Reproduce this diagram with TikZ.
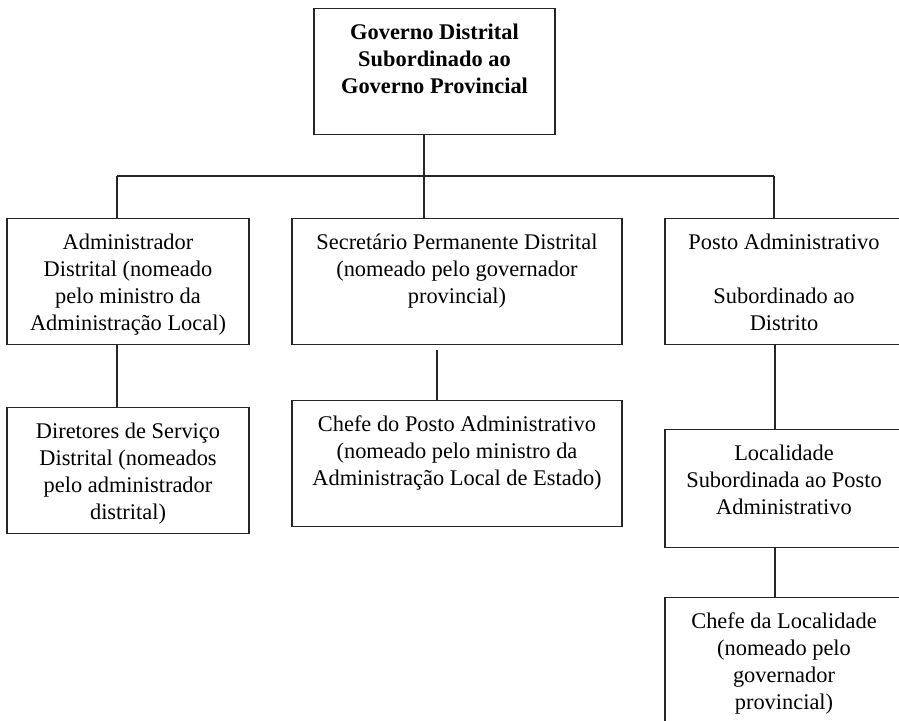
\documentclass[tikz,border=0pt]{standalone}
\usepackage{fontspec}
\setmainfont{Liberation Serif}
\usepackage{tikz}
\usetikzlibrary{positioning}
\newcommand{\linhas}[1]{\begin{tabular}[t]{@{}c@{}}#1\end{tabular}}
\tikzstyle{cargo} = [rectangle, draw=black!85, line width=0.6pt, anchor=north, inner xsep=2pt, inner ysep=0pt, text height=15.5pt, text depth=47.5pt, font=\fontsize{11.2}{13.5}\selectfont]
\tikzstyle{cargoforte} = [cargo, font=\fontsize{11.2}{13.5}\selectfont\bfseries]
\tikzstyle{linha} = [draw=black!85, line width=0.6pt]

\begin{document}
\begin{tikzpicture}[x=0.5pt, y=-0.5pt]

			\clip (0,0) rectangle (899,721);

			\node (governo) [cargoforte, minimum width=120.5pt] at (434.5,8) {\linhas{Governo Distrital\\ Subordinado ao\\ Governo Provincial}};

			\node (administrador) [cargo, minimum width=121pt] at (128,218) {\linhas{Administrador\\ Distrital (nomeado\\ pelo ministro da\\ Administração Local)}};

			\node (secretario) [cargo, minimum width=165pt] at (457,218) {\linhas{Secretário Permanente Distrital\\ (nomeado pelo governador\\ provincial)}};

			\node (posto) [cargo, minimum width=119pt] at (784,218) {\linhas{Posto Administrativo\\ \\ Subordinado ao\\ Distrito}};

			\node (diretores) [cargo, minimum width=121pt] at (128,407) {\linhas{Diretores de Serviço\\ Distrital (nomeados\\ pelo administrador\\ distrital)}};

			\node (chefe_posto) [cargo, minimum width=165pt] at (457,400) {\linhas{Chefe do Posto Administrativo\\ (nomeado pelo ministro da\\ Administração Local de Estado)}};

			\node (localidade) [cargo, minimum width=119pt, text depth=43.5pt] at (784,429) {\linhas{Localidade\\ Subordinada ao Posto\\ Administrativo}};

			\node (chefe_local) [cargo, minimum width=119pt, text depth=54.5pt] at (784,597) {\linhas{Chefe da Localidade\\ (nomeado pelo\\ governador\\ provincial)}};

			\coordinate (barra_esq) at (117,176);
			\coordinate (barra_dir) at (774,176);

			\draw [linha] (barra_esq) -- (barra_dir);
			\draw [linha] ([xshift=-5.25pt]governo.south) -- ([xshift=-5.25pt]governo.south |- secretario.north);
			\draw [linha] (barra_esq) -- (barra_esq |- administrador.north);
			\draw [linha] (barra_dir) -- (barra_dir |- posto.north);
			\draw [linha] ([xshift=-5.5pt]administrador.south) -- ([xshift=-5.5pt]diretores.north);
			\draw [linha] ([xshift=-10pt, yshift=-2.5pt]secretario.south) -- ([xshift=-10pt]chefe_posto.north);
			\draw [linha] ([xshift=-4.5pt]posto.south) -- ([xshift=-4.5pt]localidade.north);
			\draw [linha] ([xshift=-4.5pt]localidade.south) -- ([xshift=-4.5pt]chefe_local.north);

		\end{tikzpicture}
\end{document}
